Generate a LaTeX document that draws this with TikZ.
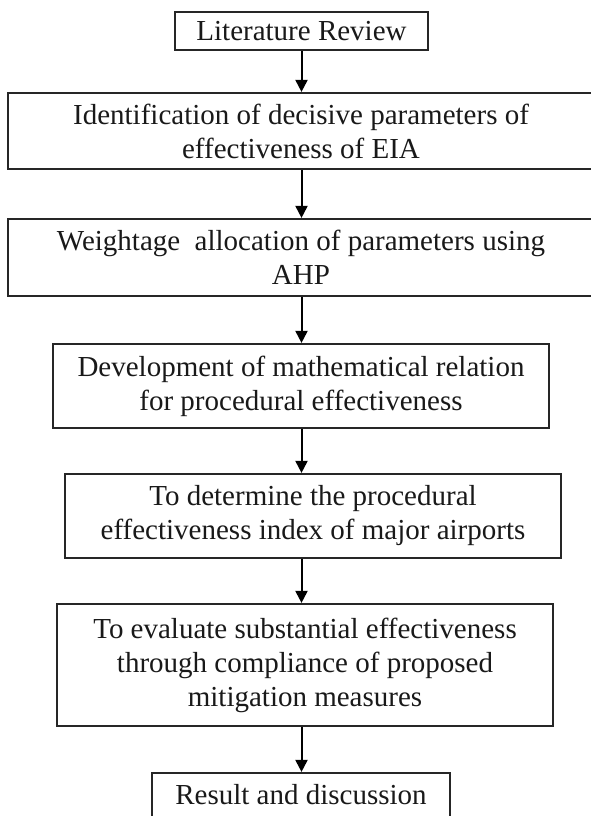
\documentclass[tikz,border=0pt]{standalone}
\usepackage{fontspec}
\setmainfont{Liberation Serif}
\usetikzlibrary{arrows.meta}
\tikzset{
  box/.style={draw=black!85, line width=2.2pt, fill=white, inner sep=0pt, align=center,
    font=\fontsize{29}{34}\selectfont, text=black!90},
  arr/.style={line width=2pt, -{Triangle[length=12pt,width=12pt]}}
}
\begin{document}
\begin{tikzpicture}[x=1pt,y=-1pt]
\useasboundingbox (0,0) rectangle (590,816);
\node[box, minimum width=253pt, minimum height=38pt] (b1) at (301.5,31) {Literature Review};
\node[box, minimum width=586pt, minimum height=76pt] (b2) at (301,131) {Identification of decisive parameters of\\effectiveness of EIA};
\node[box, minimum width=586pt, minimum height=77pt] (b3) at (301,257.5) {Weightage\ \ allocation of parameters using\\AHP};
\node[box, minimum width=496pt, minimum height=84pt] (b4) at (301,386) {Development of mathematical relation\\for procedural effectiveness};
\node[box, minimum width=496pt, minimum height=84pt] (b5) at (313,516) {To determine the procedural\\effectiveness index of major airports};
\node[box, minimum width=496pt, minimum height=122pt] (b6) at (305,665) {To evaluate substantial effectiveness\\through compliance of proposed\\mitigation measures};
\node[box, minimum width=298pt, minimum height=44pt] (b7) at (301,795) {Result and discussion};
\draw[arr] (b1.south) -- (b1.south |- b2.north);
\draw[arr] (b2.south -| b1.south) -- (b3.north -| b1.south);
\draw[arr] (b3.south -| b1.south) -- (b4.north -| b1.south);
\draw[arr] (b4.south -| b1.south) -- (b5.north -| b1.south);
\draw[arr] (b5.south -| b1.south) -- (b6.north -| b1.south);
\draw[arr] (b6.south -| b1.south) -- (b7.north -| b1.south);
\end{tikzpicture}
\end{document}
